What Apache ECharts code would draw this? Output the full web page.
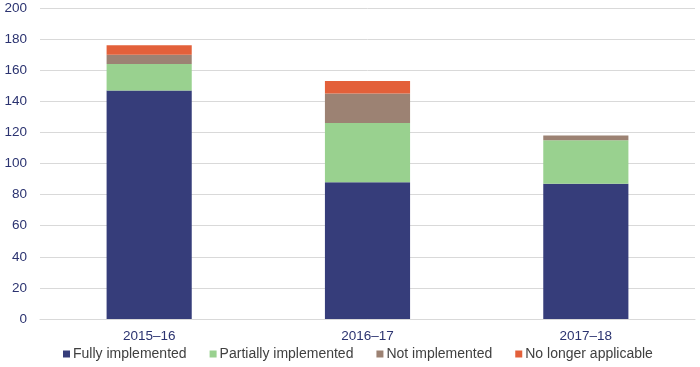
<!DOCTYPE html>
<html><head><meta charset="utf-8">
<script src="https://cdn.jsdelivr.net/npm/echarts@6/dist/echarts.min.js"></script>
<style>html,body{margin:0;padding:0;background:#fff}#c{width:700px;height:367px}</style>
</head><body><div id="c"></div>
<script>
const categories = ['2015–16', '2016–17', '2017–18'];
const fully = [147, 88, 87];
const partially = [17, 38, 28];
const notImpl = [6, 19, 3];
const noLonger = [6, 8, 0];
const yTicks = {min: 0, max: 200, interval: 20};

const txt = '#2b3370';
const font = 'Liberation Sans, Arial, sans-serif';
const chart = echarts.init(document.getElementById('c'));
function s(name, data, color) {
  return {name, type: 'bar', stack: 'a', data, barWidth: '39%',
    itemStyle: {color}, emphasis: {disabled: true}};
}
chart.setOption({
  animation: false,
  textStyle: {fontFamily: font},
  grid: {left: 40, right: 5, top: 8, bottom: 48},
  legend: {bottom: 1, left: 58, itemWidth: 7, itemHeight: 7, itemGap: 23,
    icon: 'rect', textStyle: {color: '#404040', fontSize: 14, fontFamily: font, padding: [0,0,0,-2]}},
  xAxis: {type: 'category', data: categories,
    axisLine: {lineStyle: {color: '#d9d9d9'}}, axisTick: {show: false},
    axisLabel: {color: txt, fontSize: 13.5, margin: 10, fontFamily: font}},
  yAxis: {type: 'value', min: yTicks.min, max: yTicks.max, interval: yTicks.interval,
    splitLine: {lineStyle: {color: '#d9d9d9'}},
    axisLabel: {color: txt, fontSize: 13.5, margin: 13, fontFamily: font}},
  series: [
    s('Fully implemented', fully, '#363d7a'),
    s('Partially implemented', partially, '#99d18f'),
    s('Not implemented', notImpl, '#9c8273'),
    s('No longer applicable', noLonger, '#e3603a')
  ]
});
</script></body></html>
